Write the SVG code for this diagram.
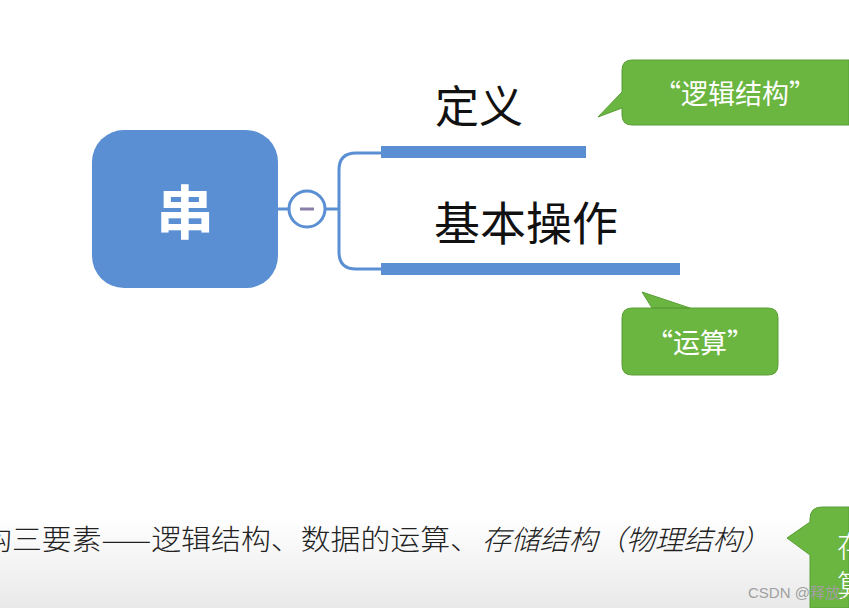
<svg xmlns="http://www.w3.org/2000/svg" width="849" height="608" viewBox="0 0 849 608">
<defs>
<linearGradient id="bg" x1="0" y1="0" x2="0" y2="1">
<stop offset="0" stop-color="#ffffff"/>
<stop offset="0.85" stop-color="#ffffff"/>
<stop offset="1" stop-color="#e9e9e9"/>
</linearGradient>
<style>
.blue{fill:#5b8fd3}
.line{fill:none;stroke:#5b8fd3;stroke-width:3}
.bar{fill:#5b8fd3}
.topic{font-family:"Noto Sans CJK SC","Liberation Sans",sans-serif;fill:#111;}
.callout{fill:#6bb541;stroke:#5a9e36;stroke-width:1}
.ctext{font-family:"Noto Sans CJK SC","Liberation Sans",sans-serif;fill:#fff;font-size:27px;text-anchor:middle}
.rtext{font-family:"Noto Sans CJK SC","Liberation Sans",sans-serif;fill:#fff;font-size:30px;font-weight:300}
.btext{font-family:"Noto Sans CJK SC",serif;fill:#222;font-size:28px;font-weight:300}
</style>
</defs>
<rect width="849" height="608" fill="url(#bg)"/>

<g id="connectors">
<line class="line" x1="278" y1="209" x2="289" y2="209"/>
<line class="line" x1="325" y1="209" x2="339" y2="209"/>
<path class="line" d="M381,153 H356 Q339,153 339,170 V252 Q339,269 356,269 H381"/>
</g>

<g id="root">
<rect class="blue" x="92" y="130" width="186" height="158" rx="32"/>
<text x="185" y="234" font-family="Noto Sans CJK SC,sans-serif" font-size="58" font-weight="bold" fill="#fff" text-anchor="middle">串</text>
</g>

<g id="collapse">
<circle cx="307" cy="209" r="18" fill="#fff" stroke="#5b8fd3" stroke-width="3"/>
<line x1="300" y1="209" x2="314" y2="209" stroke="#8a7fa8" stroke-width="3"/>
</g>

<g id="node-def">
<rect class="bar" x="381" y="146" width="205" height="12"/>
<text class="topic" x="435" y="123" font-size="44">定义</text>
</g>

<g id="node-ops">
<rect class="bar" x="381" y="263" width="299" height="12"/>
<text class="topic" x="434" y="240" font-size="46">基本操作</text>
</g>

<g id="callout-logic">
<path class="callout" d="M632,60 H849 V125 H632 Q622,125 622,115 V108 L598,117 L622,92 V70 Q622,60 632,60 Z"/>
<text class="ctext" x="735" y="104">“逻辑结构”</text>
</g>

<g id="callout-op">
<path class="callout" d="M632,308 H690 L642,292 L652,308 H768 Q778,308 778,318 V365 Q778,375 768,375 H632 Q622,375 622,365 V318 Q622,308 632,308 Z"/>
<text class="ctext" x="700" y="353">“运算”</text>
</g>

<g id="bottom-text">
<text class="btext" x="-18" y="550" textLength="498" lengthAdjust="spacingAndGlyphs">构三要素——逻辑结构、数据的运算、</text>
<text class="btext" x="482" y="550" font-style="italic" textLength="288" lengthAdjust="spacingAndGlyphs">存储结构（物理结构）</text>
</g>

<g id="callout-right">
<path class="callout" d="M822,507 H849 V608 H810 V555 L787,538 L810,522 V519 Q810,507 822,507 Z"/>
<text class="rtext" x="837" y="557">存</text>
<text class="rtext" x="837" y="596">算</text>
</g>

<text x="748" y="598" font-family="Liberation Sans Narrow,Liberation Sans,sans-serif" font-size="15" fill="#a0a0a0">CSDN @<tspan font-family="Noto Sans CJK SC,sans-serif">释放</tspan>:</text>
</svg>
